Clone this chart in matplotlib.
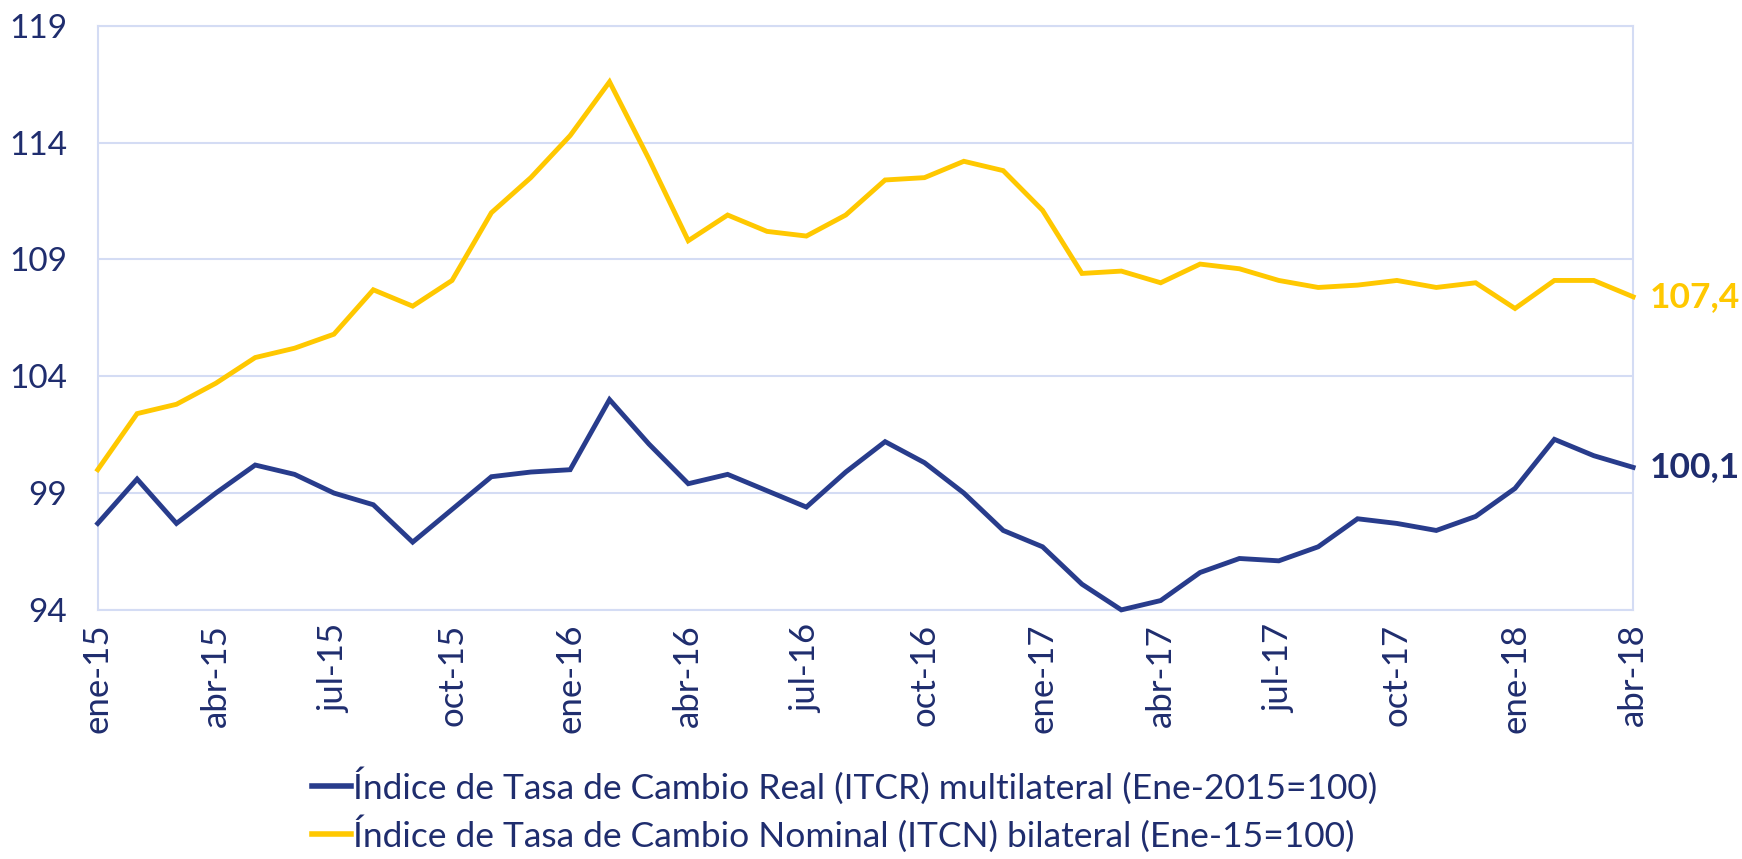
import matplotlib
matplotlib.use("Agg")
import matplotlib.pyplot as plt
import numpy as np

plt.rcParams['font.family'] = ['Lato', 'DejaVu Sans']

months = ['ene', 'feb', 'mar', 'abr', 'may', 'jun', 'jul', 'ago', 'sep', 'oct', 'nov', 'dic']
dates = [f"{months[i % 12]}-{15 + i // 12}" for i in range(40)]

itcr = [97.7, 99.6, 97.7, 99.0, 100.2, 99.8, 99.0, 98.5, 96.9, 98.3,
        99.7, 99.9, 100.0, 103.0, 101.1, 99.4, 99.8, 99.1, 98.4, 99.9,
        101.2, 100.3, 99.0, 97.4, 96.7, 95.1, 94.0, 94.4, 95.6, 96.2,
        96.1, 96.7, 97.9, 97.7, 97.4, 98.0, 99.2, 101.3, 100.6, 100.1]
itcn = [100.0, 102.4, 102.8, 103.7, 104.8, 105.2, 105.8, 107.7, 107.0, 108.1,
        111.0, 112.5, 114.3, 116.6, 113.3, 109.8, 110.9, 110.2, 110.0, 110.9,
        112.4, 112.5, 113.2, 112.8, 111.1, 108.4, 108.5, 108.0, 108.8, 108.6,
        108.1, 107.8, 107.9, 108.1, 107.8, 108.0, 106.9, 108.1, 108.1, 107.4]

label_itcr = "Índice de Tasa de Cambio Real (ITCR) multilateral (Ene-2015=100)"
label_itcn = "Índice de Tasa de Cambio Nominal (ITCN) bilateral (Ene-15=100)"
yticks = [94, 99, 104, 109, 114, 119]

blue = '#283C8C'
yellow = '#FFC800'
text_col = '#1F2D6E'
grid_col = '#D4DCF4'

fig = plt.figure(figsize=(17.42, 8.59), dpi=100)
ax = fig.add_axes([0.0561, 0.290, 0.8814, 0.680])

x = np.arange(len(dates))
ax.plot(x, itcr, color=blue, lw=3.5, label=label_itcr, solid_joinstyle='miter', clip_on=False, zorder=3)
ax.plot(x, itcn, color=yellow, lw=3.5, label=label_itcn, solid_joinstyle='miter', clip_on=False, zorder=3)

ax.set_xlim(0, len(dates) - 1)
ax.set_ylim(94, 119)
ax.set_yticks(yticks)
ax.set_xticks(x[::3])
ax.set_xticklabels(dates[::3], rotation=90, fontsize=25, color=text_col)
ax.tick_params(axis='y', labelsize=24, labelcolor=text_col, length=0, pad=22)
ax.tick_params(axis='x', length=0, pad=10)
ax.grid(axis='y', color=grid_col, lw=1.5)
for s in ['left', 'right', 'top', 'bottom']:
    ax.spines[s].set_color(grid_col)
    ax.spines[s].set_linewidth(1.5)

ax.annotate(f"{itcn[-1]:.1f}".replace('.', ','), xy=(x[-1], itcn[-1]), xytext=(12, 0),
            textcoords='offset points', va='center', ha='left', fontsize=25.5,
            fontweight='bold', color=yellow, annotation_clip=False)
ax.annotate(f"{itcr[-1]:.1f}".replace('.', ','), xy=(x[-1], itcr[-1]), xytext=(12, 0),
            textcoords='offset points', va='center', ha='left', fontsize=25.5,
            fontweight='bold', color=text_col, annotation_clip=False)

leg = fig.legend(loc='lower center', bbox_to_anchor=(0.485, -0.03), ncol=1, frameon=False,
                 fontsize=25.5, handlelength=1.1, handletextpad=0.05, labelspacing=0.3)
for t in leg.get_texts():
    t.set_color(text_col)
for l in leg.get_lines():
    l.set_linewidth(4)

fig.savefig('out.png', dpi=100)
